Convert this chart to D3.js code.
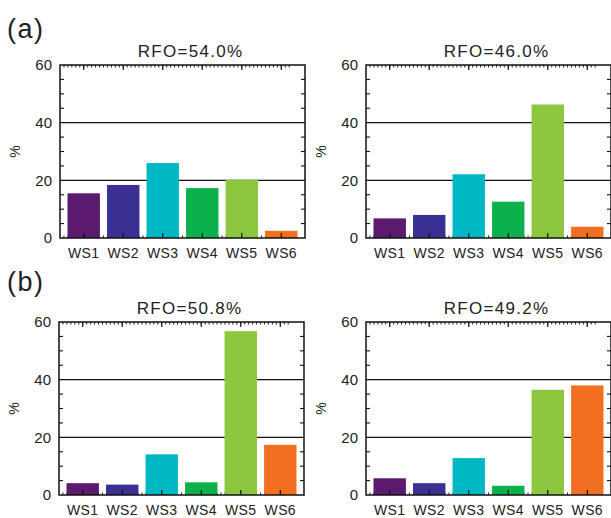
<!DOCTYPE html>
<html>
<head>
<meta charset="utf-8">
<script src="https://cdn.jsdelivr.net/npm/d3@7"></script>
<style>
  body { margin: 0; background: #fff; }
  svg { display: block; font-family: "Liberation Sans", Arial, sans-serif; }
</style>
</head>
<body>
<svg id="chart" width="611" height="518"></svg>
<script>
// data
const categories = ["WS1", "WS2", "WS3", "WS4", "WS5", "WS6"];
const colors = ["#5b1a6e", "#3a2f93", "#00b8c3", "#0db14b", "#8dc63f", "#f26f21"];
const yTicks = [0, 20, 40, 60];
const titles = ["RFO=54.0%", "RFO=46.0%", "RFO=50.8%", "RFO=49.2%"];
const valuesA1 = [15.5, 18.4, 26.0, 17.3, 20.2, 2.5];
const valuesA2 = [6.8, 8.0, 22.1, 12.6, 46.3, 3.9];
const valuesB1 = [4.1, 3.6, 14.1, 4.4, 56.8, 17.4];
const valuesB2 = [5.8, 4.1, 12.8, 3.2, 36.5, 38.0];
const rowLabels = ["(a)", "(b)"];

// layout
const PLOT_W = 245;
const panels = [
  { x: 60, y: 65, h: 173, values: valuesA1, title: titles[0] },
  { x: 366, y: 65, h: 173, values: valuesA2, title: titles[1] },
  { x: 59, y: 322, h: 173, values: valuesB1, title: titles[2] },
  { x: 366, y: 322, h: 173, values: valuesB2, title: titles[3] },
];

const svg = d3.select("#chart");

// row labels
svg.selectAll("text.row")
  .data(rowLabels)
  .join("text")
  .attr("class", "row")
  .attr("x", 7)
  .attr("y", (d, i) => [38, 291][i])
  .attr("font-size", 27)
  .attr("letter-spacing", 1.5)
  .attr("fill", "#222")
  .text((d) => d);

panels.forEach((p) => {
  const g = svg.append("g").attr("transform", `translate(${p.x},${p.y})`);

  const x = d3.scaleBand()
    .domain(categories)
    .range([0, PLOT_W])
    .paddingInner(0.18)
    .paddingOuter(0.19);
  // continuous x for tick marks (bar centres at 1..6)
  const xl = d3.scaleLinear().domain([0.4, 6.6]).range([0, PLOT_W]);
  const y = d3.scaleLinear().domain([0, 60]).range([p.h, 0]);

  // grid lines at 20 and 40
  g.selectAll("line.grid")
    .data([20, 40])
    .join("line")
    .attr("x1", 0).attr("x2", PLOT_W)
    .attr("y1", (d) => y(d)).attr("y2", (d) => y(d))
    .attr("stroke", "#111").attr("stroke-width", 1.1);

  // minor ticks top and bottom
  const minor = d3.range(5, 63).map((d) => d / 10);
  g.selectAll("line.tminor")
    .data(minor)
    .join("line")
    .attr("x1", (d) => xl(d)).attr("x2", (d) => xl(d))
    .attr("y1", 0).attr("y2", 2.5)
    .attr("stroke", "#222").attr("stroke-width", 1);
  g.selectAll("line.bminor")
    .data(minor)
    .join("line")
    .attr("x1", (d) => xl(d)).attr("x2", (d) => xl(d))
    .attr("y1", p.h).attr("y2", p.h - 2.5)
    .attr("stroke", "#222").attr("stroke-width", 1);

  // bars
  g.selectAll("rect.bar")
    .data(p.values)
    .join("rect")
    .attr("x", (d, i) => x(categories[i]))
    .attr("width", x.bandwidth())
    .attr("y", (d) => y(d))
    .attr("height", (d) => y(0) - y(d))
    .attr("fill", (d, i) => colors[i]);

  // major x ticks at bar centres
  const major = d3.range(1, 7);
  g.selectAll("line.tmajor")
    .data(major)
    .join("line")
    .attr("x1", (d) => xl(d)).attr("x2", (d) => xl(d))
    .attr("y1", 0).attr("y2", 5)
    .attr("stroke", "#111").attr("stroke-width", 1.2);
  g.selectAll("line.bmajor")
    .data(major)
    .join("line")
    .attr("x1", (d) => xl(d)).attr("x2", (d) => xl(d))
    .attr("y1", p.h).attr("y2", p.h - 5)
    .attr("stroke", "#111").attr("stroke-width", 1.2);

  // y minor ticks left and right (every 5)
  const yMinor = d3.range(5, 60, 5).filter((d) => d % 20 !== 0);
  g.selectAll("line.lminor")
    .data(yMinor)
    .join("line")
    .attr("x1", 0).attr("x2", 4)
    .attr("y1", (d) => y(d)).attr("y2", (d) => y(d))
    .attr("stroke", "#111").attr("stroke-width", 1.1);
  g.selectAll("line.rminor")
    .data(yMinor)
    .join("line")
    .attr("x1", PLOT_W).attr("x2", PLOT_W - 4)
    .attr("y1", (d) => y(d)).attr("y2", (d) => y(d))
    .attr("stroke", "#111").attr("stroke-width", 1.1);

  // frame
  g.append("rect")
    .attr("x", 0).attr("y", 0)
    .attr("width", PLOT_W).attr("height", p.h)
    .attr("fill", "none")
    .attr("stroke", "#111").attr("stroke-width", 1.5);

  // y tick labels
  const yAxis = g.append("g")
    .call(d3.axisLeft(y).tickValues(yTicks).tickSize(0).tickPadding(8));
  yAxis.select(".domain").remove();
  yAxis.selectAll("text")
    .attr("font-size", 15)
    .attr("font-family", "Liberation Sans, Arial, sans-serif")
    .attr("fill", "#222");

  // x labels
  g.selectAll("text.xl")
    .data(categories)
    .join("text")
    .attr("class", "xl")
    .attr("x", (d) => x(d) + x.bandwidth() / 2)
    .attr("y", p.h + 20)
    .attr("text-anchor", "middle")
    .attr("font-size", 14)
    .attr("letter-spacing", 0.4)
    .attr("fill", "#222")
    .text((d) => d);

  // y label
  g.append("text")
    .attr("transform", `translate(-45,${p.h / 2}) rotate(-90)`)
    .attr("text-anchor", "middle")
    .attr("dy", "0.35em")
    .attr("font-size", 14)
    .attr("fill", "#222")
    .text("%");

  // title
  g.append("text")
    .attr("x", PLOT_W / 2 + 8)
    .attr("y", -8)
    .attr("text-anchor", "middle")
    .attr("font-size", 17)
    .attr("letter-spacing", 1.3)
    .attr("fill", "#222")
    .text(p.title);
});
</script>
</body>
</html>
